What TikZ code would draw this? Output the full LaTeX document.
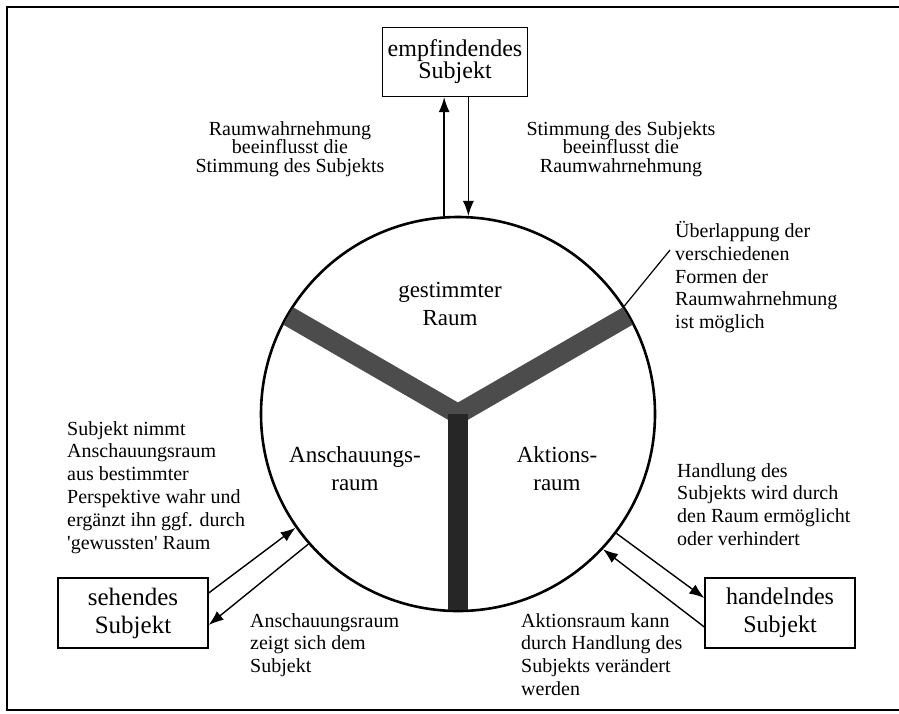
\documentclass[tikz,border=0pt]{standalone}
\usepackage{fontspec}
\setmainfont{Liberation Serif}
\usetikzlibrary{arrows.meta}
\begin{document}
\begin{tikzpicture}[x=1pt,y=-1pt,
  kasten/.style={draw,line width=1.3pt,inner sep=0pt,align=center},
  notiz/.style={inner sep=0pt,font=\fontsize{20}{22.8}\selectfont},
  feld/.style={inner sep=0pt,align=center,font=\fontsize{23}{28}\selectfont},
  pfeil/.style={line width=1.4pt,-{Latex[length=15pt,width=11pt]}},
  balken/.style={line width=20pt}]
\useasboundingbox (0,0) rectangle (899,713);
\draw[line width=2pt] (899,7) -- (7,7) -- (7,710) -- (899,710);

\node[circle,draw,line width=2.6pt,minimum size=394pt,inner sep=0pt] (raum) at (458,414) {};
\begin{scope}
  \clip (raum.center) circle[radius=196pt];
  \draw[balken,black!70] (raum.center) -- ++(150:230pt);
  \draw[balken,black!70] (raum.center) -- ++(30:230pt);
  \draw[balken,black!85] (raum.center) -- ++(270:230pt);
\end{scope}

\node[feld,anchor=north] (gest) at (450,282) {gestimmter\\Raum};
\node[feld,anchor=north] (ansch) at (355,446) {Anschauungs-\\raum};
\node[feld,anchor=north] (akt) at (557,446) {Aktions-\\raum};

\node[kasten,minimum width=145pt,minimum height=69pt,font=\fontsize{24}{22}\selectfont] (empf) at (455,62) {empfindendes\\Subjekt};
\node[kasten,minimum width=150pt,minimum height=70pt,font=\fontsize{25}{28}\selectfont] (sehen) at (133,613) {sehendes\\Subjekt};
\node[kasten,minimum width=150pt,minimum height=70pt,font=\fontsize{24}{28}\selectfont] (handeln) at (780,613) {handelndes\\Subjekt};

\node[notiz,align=center,anchor=north,font=\fontsize{20}{18.5}\selectfont] (wirkung) at (290,121) {Raumwahrnehmung\\beeinflusst die\\Stimmung des Subjekts};
\node[notiz,align=center,anchor=north,font=\fontsize{20}{18.5}\selectfont] (stimmung) at (621,121) {Stimmung des Subjekts\\beeinflusst die\\Raumwahrnehmung};
\node[notiz,align=left,anchor=north west] (overlap) at (675,221) {Überlappung der\\verschiedenen\\Formen der\\Raumwahrnehmung\\ist möglich};
\node[notiz,align=left,anchor=north west] (perspektive) at (67,421) {Subjekt nimmt\\Anschauungsraum\\aus bestimmter\\Perspektive wahr und\\ergänzt ihn ggf. durch\\\textquotesingle gewussten\textquotesingle{} Raum};
\node[notiz,align=left,anchor=north west] (zeigt) at (250,613) {Anschauungsraum\\zeigt sich dem\\Subjekt};
\node[notiz,align=left,anchor=north west] (handlung) at (677,463) {Handlung des\\Subjekts wird durch\\den Raum ermöglicht\\oder verhindert};
\node[notiz,align=left,anchor=north west] (veraendert) at (521,613) {Aktionsraum kann\\durch Handlung des\\Subjekts verändert\\werden};

\draw[pfeil] (raum.94) -- (raum.94 |- empf.south);
\draw[pfeil] (raum.87 |- empf.south) -- (raum.87);
\draw[pfeil] ([yshift=20pt]sehen.east) -- (raum.215);
\draw[pfeil] (raum.221) -- ([yshift=-12pt]sehen.east);
\draw[pfeil] (raum.323) -- ([yshift=15pt]handeln.west);
\draw[pfeil] ([yshift=-14pt]handeln.west) -- (raum.317);

\coordinate (zeiger) at (670,250);
\draw[line width=1.2pt] (zeiger) -- (raum.33);
\end{tikzpicture}
\end{document}
